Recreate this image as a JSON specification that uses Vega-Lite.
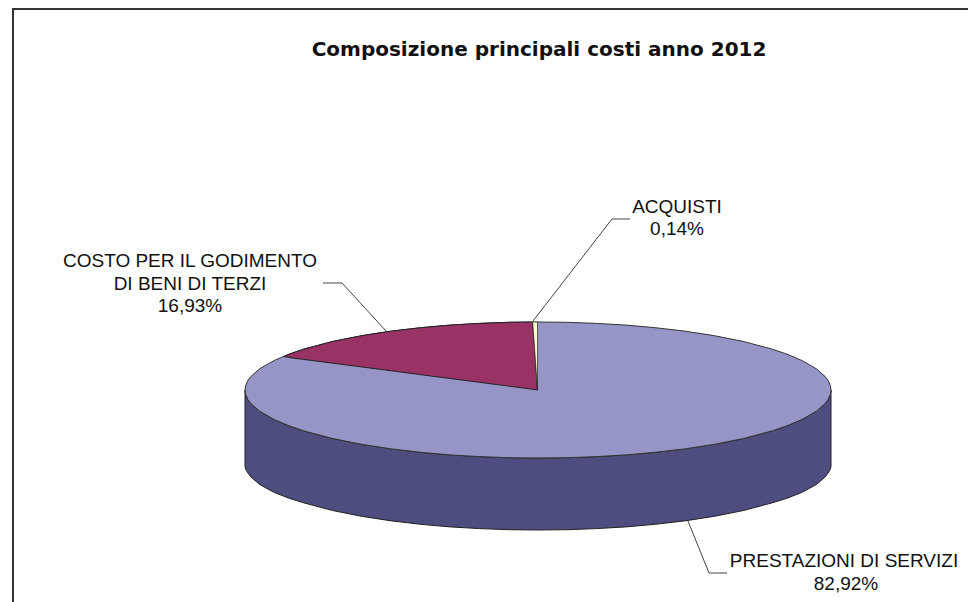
{"$schema":"https://vega.github.io/schema/vega-lite/v6.json","width":968,"height":602,"padding":0,"autosize":{"type":"none"},"background":"white","config":{"view":{"stroke":null}},
"datasets":{
"frame":[{"x":13,"y":602},{"x":13,"y":9},{"x":968,"y":9}],
"side":[{"x":245,"y":390,"y2":466},{"x":245.6,"y":394.3,"y2":469},{"x":247.9,"y":399.6,"y2":473},{"x":250.9,"y":403.5,"y2":477},{"x":259.6,"y":411.2,"y2":484.5},{"x":274.3,"y":419.6,"y2":492.5},{"x":289,"y":425.8,"y2":498.2},{"x":303.6,"y":430.8,"y2":502.8},{"x":332.9,"y":438.6,"y2":510.6},{"x":362.2,"y":444.4,"y2":516.4},{"x":391.5,"y":448.9,"y2":520.9},{"x":420.8,"y":452.3,"y2":524.3},{"x":450.1,"y":454.9,"y2":526.9},{"x":479.4,"y":456.6,"y2":528.6},{"x":508.7,"y":457.7,"y2":529.7},{"x":538,"y":458,"y2":530},{"x":567.3,"y":457.7,"y2":529.7},{"x":596.6,"y":456.6,"y2":528.6},{"x":625.9,"y":454.9,"y2":526.9},{"x":655.2,"y":452.3,"y2":524.3},{"x":684.5,"y":448.9,"y2":520.9},{"x":713.8,"y":444.4,"y2":516.4},{"x":743.1,"y":438.6,"y2":510.6},{"x":772.4,"y":430.8,"y2":502.8},{"x":787,"y":425.8,"y2":498.2},{"x":801.7,"y":419.6,"y2":492.5},{"x":816.4,"y":411.2,"y2":484.5},{"x":825.1,"y":403.5,"y2":477},{"x":828.1,"y":399.6,"y2":473},{"x":830.4,"y":394.3,"y2":469},{"x":831,"y":390,"y2":466}],
"top":[{"x":245,"y":390,"y2":390},{"x":245.6,"y":385.7,"y2":394.3},{"x":247.9,"y":380.4,"y2":399.6},{"x":250.9,"y":376.5,"y2":403.5},{"x":259.6,"y":368.8,"y2":411.2},{"x":274.3,"y":360.4,"y2":419.6},{"x":289,"y":354.2,"y2":425.8},{"x":303.6,"y":349.2,"y2":430.8},{"x":332.9,"y":341.4,"y2":438.6},{"x":362.2,"y":335.6,"y2":444.4},{"x":391.5,"y":331.1,"y2":448.9},{"x":420.8,"y":327.7,"y2":452.3},{"x":450.1,"y":325.1,"y2":454.9},{"x":479.4,"y":323.4,"y2":456.6},{"x":508.7,"y":322.3,"y2":457.7},{"x":538,"y":322,"y2":458},{"x":567.3,"y":322.3,"y2":457.7},{"x":596.6,"y":323.4,"y2":456.6},{"x":625.9,"y":325.1,"y2":454.9},{"x":655.2,"y":327.7,"y2":452.3},{"x":684.5,"y":331.1,"y2":448.9},{"x":713.8,"y":335.6,"y2":444.4},{"x":743.1,"y":341.4,"y2":438.6},{"x":772.4,"y":349.2,"y2":430.8},{"x":787,"y":354.2,"y2":425.8},{"x":801.7,"y":360.4,"y2":419.6},{"x":816.4,"y":368.8,"y2":411.2},{"x":825.1,"y":376.5,"y2":403.5},{"x":828.1,"y":380.4,"y2":399.6},{"x":830.4,"y":385.7,"y2":394.3},{"x":831,"y":390,"y2":390}],
"red":[{"x":284,"y":356.5,"y2":356.5},{"x":289,"y":354.2,"y2":357.5},{"x":303.6,"y":349.2,"y2":359.4},{"x":332.9,"y":341.4,"y2":363.2},{"x":362.2,"y":335.6,"y2":367},{"x":391.5,"y":331.1,"y2":370.8},{"x":420.8,"y":327.7,"y2":374.7},{"x":450.1,"y":325.1,"y2":378.5},{"x":479.4,"y":323.4,"y2":382.3},{"x":508.7,"y":322.3,"y2":386.1},{"x":532.7,"y":322,"y2":389.3},{"x":537.5,"y":390,"y2":390}],
"yellow":[{"x":532.7,"y":322,"y2":322},{"x":537.5,"y":322,"y2":390}],
"leaders":[{"k":"a","o":1,"x":533,"y":321},{"k":"a","o":2,"x":612,"y":219},{"k":"a","o":3,"x":630,"y":219},{"k":"b","o":1,"x":323,"y":283},{"k":"b","o":2,"x":342,"y":283},{"k":"b","o":3,"x":386,"y":331},{"k":"c","o":1,"x":688,"y":521},{"k":"c","o":2,"x":709,"y":573},{"k":"c","o":3,"x":727,"y":573}],
"labels":[{"t":"ACQUISTI","x":677,"y":207},{"t":"0,14%","x":677,"y":229},{"t":"COSTO PER IL GODIMENTO","x":190,"y":261},{"t":"DI BENI DI TERZI","x":190,"y":284},{"t":"16,93%","x":190,"y":306},{"t":"PRESTAZIONI DI SERVIZI","x":844,"y":561},{"t":"82,92%","x":846,"y":584}],
"title":[{"t":"Composizione principali costi anno 2012","x":539,"y":50}]
},
"encoding":{"x":{"field":"x","type":"quantitative","scale":{"domain":[0,968]},"axis":null},"y":{"field":"y","type":"quantitative","scale":{"domain":[0,602],"reverse":true},"axis":null}},
"layer":[
{"data":{"name":"frame"},"mark":{"type":"line","stroke":"#333333","strokeWidth":2}},
{"data":{"name":"side"},"mark":{"type":"area","fill":"#4D4D80","stroke":"#222222","strokeWidth":1},"encoding":{"y2":{"field":"y2"}}},
{"data":{"name":"top"},"mark":{"type":"area","fill":"#9595C8","stroke":"#333333","strokeWidth":1},"encoding":{"y2":{"field":"y2"}}},
{"data":{"name":"red"},"mark":{"type":"area","fill":"#993366","stroke":"#222222","strokeWidth":1},"encoding":{"y2":{"field":"y2"}}},
{"data":{"name":"yellow"},"mark":{"type":"area","fill":"#FFFFCC","stroke":"#222222","strokeWidth":0.7},"encoding":{"y2":{"field":"y2"}}},
{"data":{"name":"leaders"},"mark":{"type":"line","stroke":"#444444","strokeWidth":1},"encoding":{"detail":{"field":"k"},"order":{"field":"o"}}},
{"data":{"name":"labels"},"mark":{"type":"text","font":"Liberation Sans","fontSize":19,"align":"center","baseline":"middle","fill":"#111111"},"encoding":{"text":{"field":"t"}}},
{"data":{"name":"title"},"mark":{"type":"text","font":"DejaVu Sans","fontSize":20,"fontWeight":"bold","align":"center","baseline":"middle","fill":"#111111"},"encoding":{"text":{"field":"t"}}}
]}
